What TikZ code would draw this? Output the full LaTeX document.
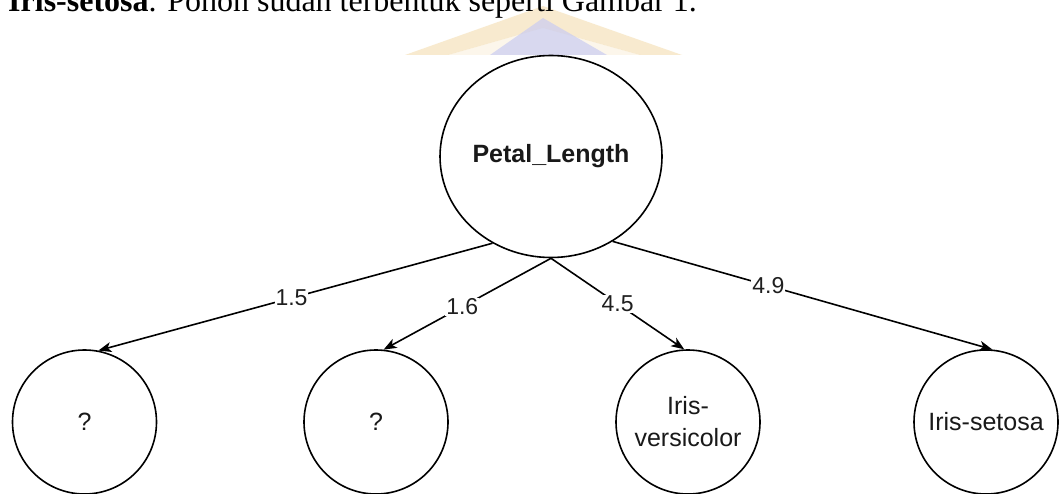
\documentclass[tikz,border=0pt]{standalone}
\usepackage{fontspec}
\setmainfont{Liberation Serif}
\newfontfamily\diagfont{Liberation Sans}
\usetikzlibrary{shapes.geometric,arrows.meta}
\definecolor{wmorange}{HTML}{F4DDB0}
\definecolor{wmblue}{HTML}{C9CCF2}
\begin{document}
\begin{tikzpicture}[x=1pt,y=-1pt,
  treenode/.style={draw=black, line width=1.6pt, inner sep=0pt, align=center,
    font=\diagfont\fontsize{25}{32}\selectfont, text=black!90},
  leaf/.style={treenode, circle, minimum size=144pt},
  edge/.style={draw=black, line width=1.6pt,
    -{Stealth[length=13pt,width=10pt,inset=3.5pt]}},
  edgelabel/.style={fill=white, inner sep=1pt,
    font=\diagfont\fontsize{23}{27}\selectfont, text=black!88}]
\fill[white] (0,0) rectangle (1059,494);
\useasboundingbox (0,0) rectangle (1059,494);

% pale logo behind the running text
\begin{scope}
  \clip (0,0) rectangle (1059,55);
  \fill[wmorange, opacity=0.6] (405,55) -- (543,6) -- (682,55) -- (640,55)
    -- (543,28) -- (448,55) -- cycle;
  \fill[wmorange, opacity=0.25] (448,55) -- (543,28) -- (640,55) -- cycle;
  \fill[wmblue, opacity=0.7] (490,55) -- (543,18) -- (607,55) -- cycle;
\end{scope}

% running text line, partly above the page edge
\node[anchor=base west, inner sep=0pt] (header) at (8,12)
  {\fontsize{32}{38}\selectfont\textbf{Iris-setosa}. Pohon sudah terbentuk seperti Gambar 1.};

% tree
\node[treenode, ellipse, minimum width=220pt, minimum height=202pt,
  font=\diagfont\bfseries\fontsize{25}{32}\selectfont] (root) at (551,156.5) {Petal\_Length};

\node[leaf] (q1) at (84.5,422) {?};
\node[leaf] (q2) at (376,422) {?};
\node[leaf] (vers) at (688,422) {Iris-\\versicolor};
\node[leaf] (seto) at (986,422) {Iris-setosa};

\draw[edge] (root.236) -- node[edgelabel, pos=0.51] {1.5} (q1.79);
\draw[edge] (root.south) -- node[edgelabel, pos=0.53] {1.6} (q2.84);
\draw[edge] (root.south) -- node[edgelabel, pos=0.5] {4.5} (vers.93);
\draw[edge] (root.306) -- node[edgelabel, pos=0.41] {4.9} (seto.85);
\end{tikzpicture}
\end{document}
